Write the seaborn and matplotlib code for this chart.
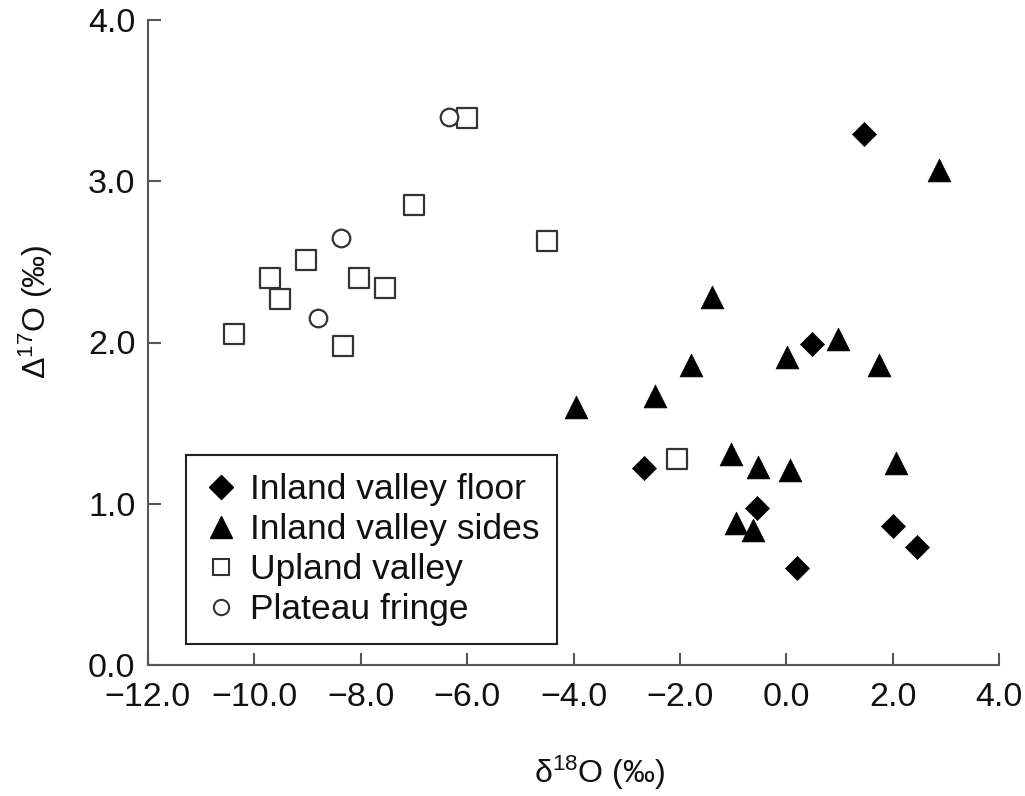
import matplotlib
matplotlib.use("Agg")
import matplotlib.pyplot as plt
from matplotlib.lines import Line2D
import seaborn as sns
import pandas as pd

# ---- data ----
floor_x = [1.47, 0.49, -2.68, -0.55, 2.01, 2.46, 0.20]
floor_y = [3.29, 1.99, 1.22, 0.975, 0.86, 0.73, 0.60]

sides_x = [2.88, -1.40, 0.97, 0.02, 1.75, -1.79, -2.47, -3.96, -1.04, -0.53, 0.07, 2.07, -0.95, -0.63]
sides_y = [3.07, 2.28, 2.02, 1.91, 1.86, 1.86, 1.67, 1.60, 1.31, 1.23, 1.21, 1.25, 0.88, 0.84]

upland_x = [-6.0, -7.0, -4.49, -9.02, -9.70, -8.03, -7.54, -9.51, -10.38, -8.33, -2.06]
upland_y = [3.39, 2.85, 2.63, 2.51, 2.40, 2.40, 2.34, 2.27, 2.05, 1.98, 1.28]

plateau_x = [-6.35, -8.37, -8.80]
plateau_y = [3.40, 2.65, 2.15]

groups = ["Inland valley floor", "Inland valley sides", "Upland valley", "Plateau fringe"]
x_ticks = [-12, -10, -8, -6, -4, -2, 0, 2, 4]
y_ticks = [0, 1, 2, 3, 4]

df = pd.concat([
    pd.DataFrame({"x": floor_x, "y": floor_y, "group": groups[0]}),
    pd.DataFrame({"x": sides_x, "y": sides_y, "group": groups[1]}),
    pd.DataFrame({"x": upland_x, "y": upland_y, "group": groups[2]}),
    pd.DataFrame({"x": plateau_x, "y": plateau_y, "group": groups[3]}),
])

sns.set_theme(style="ticks")
plt.rcParams["font.family"] = ["Liberation Sans", "DejaVu Sans"]
plt.rcParams["mathtext.fontset"] = "custom"
plt.rcParams["mathtext.rm"] = "Liberation Sans"
plt.rcParams["mathtext.default"] = "regular"
plt.rcParams["axes.unicode_minus"] = True

fig = plt.figure(figsize=(10.25, 7.96), dpi=100)
ax = fig.add_axes([148 / 1025, 1 - 665 / 796, (999 - 148) / 1025, (665 - 20) / 796])

styles = {
    groups[0]: dict(marker="D", s=150, facecolor="black", edgecolor="black", linewidth=0.5),
    groups[1]: dict(marker="^", s=270, facecolor="black", edgecolor="black", linewidth=0.5),
    groups[2]: dict(marker="s", s=190, facecolor="white", edgecolor="#333333", linewidth=1.6),
    groups[3]: dict(marker="o", s=160, facecolor="white", edgecolor="#333333", linewidth=1.6),
}
for g in groups:
    st = styles[g]
    sns.scatterplot(data=df[df["group"] == g], x="x", y="y", ax=ax, marker=st["marker"],
                    s=st["s"], color=st["facecolor"], edgecolor=st["edgecolor"],
                    linewidth=st["linewidth"], legend=False, zorder=3)

ax.set_xlim(-12, 4)
ax.set_ylim(0, 4)
ax.set_xticks(x_ticks)
ax.set_yticks(y_ticks)
ax.set_xticklabels([f"{v:.1f}".replace("-", "\u2212") for v in x_ticks])
ax.set_yticklabels([f"{v:.1f}" for v in y_ticks])

for side in ["top", "right"]:
    ax.spines[side].set_visible(False)
for side in ["left", "bottom"]:
    ax.spines[side].set_color("#555555")
    ax.spines[side].set_linewidth(1.5)
ax.tick_params(direction="in", length=9, width=1.5, color="#555555",
               labelsize=24.5, labelcolor="#111111")
ax.tick_params(axis="y", pad=9)
ax.tick_params(axis="x", pad=12)

ax.set_xlabel("\u03b4$^{18}$O (\u2030)", fontsize=23, color="#111111", va="center")
ax.set_ylabel("\u0394$^{17}$O (\u2030)", fontsize=23, color="#111111", va="center")
ax.xaxis.set_label_coords((600 - 148) / 851, (665 - 773) / 645)
ax.yaxis.set_label_coords((36 - 148) / 851, (665 - 312) / 645)

handles = [
    Line2D([], [], linestyle="none", marker="D", markersize=12, markerfacecolor="black", markeredgecolor="black"),
    Line2D([], [], linestyle="none", marker="^", markersize=16, markerfacecolor="black", markeredgecolor="black"),
    Line2D([], [], linestyle="none", marker="s", markersize=11, markerfacecolor="white", markeredgecolor="#333333", markeredgewidth=1.5),
    Line2D([], [], linestyle="none", marker="o", markersize=11, markerfacecolor="white", markeredgecolor="#333333", markeredgewidth=1.5),
]
leg = ax.legend(handles, groups, loc="lower left",
                bbox_to_anchor=((186 - 148) / 851, (665 - 644) / 645),
                borderaxespad=0, fancybox=False, framealpha=1, edgecolor="#222222",
                fontsize=25.5, handlelength=1.0, handletextpad=0.3, labelspacing=0.2,
                borderpad=0.5)
leg.get_frame().set_linewidth(1.5)
for t in leg.get_texts():
    t.set_color("#111111")

fig.savefig("out.png", dpi=100)
